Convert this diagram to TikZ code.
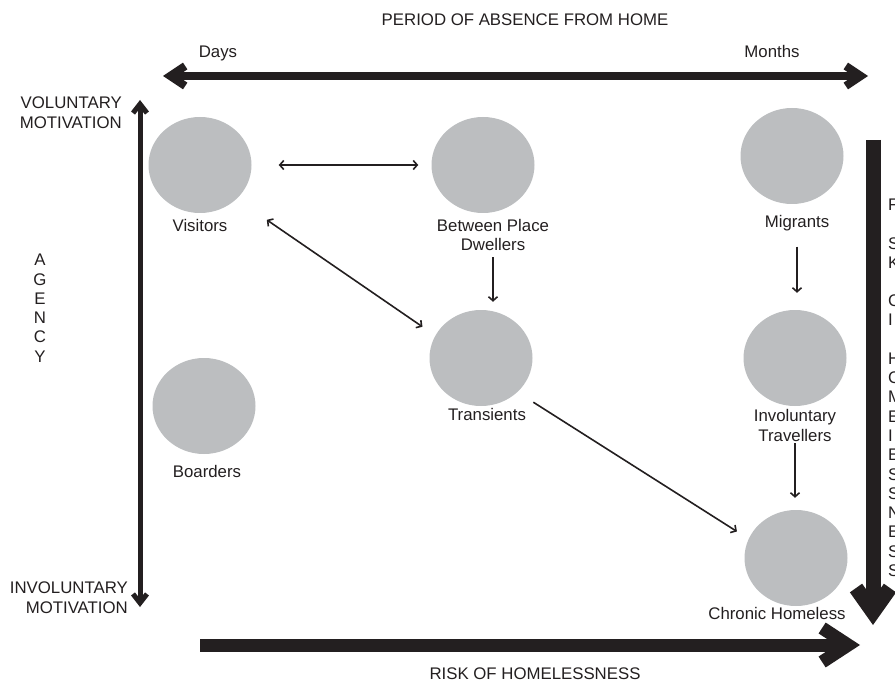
\documentclass[tikz,border=0pt]{standalone}
\usepackage{fontspec}
\setmainfont{Liberation Sans}
\usetikzlibrary{arrows.meta}
\usetikzlibrary{shapes.geometric}
\definecolor{ink}{HTML}{231F20}
\definecolor{blob}{HTML}{BCBEC0}
\tikzset{>=latex}
\tikzset{
    place/.style={ellipse, fill=blob, minimum width=103pt, minimum height=96pt, inner sep=0pt},
    tag/.style={anchor=base, align=center, inner sep=0pt, text=ink},
    twoway/.style={{Straight Barb[length=4pt, width=9pt]}-{Straight Barb[length=4pt, width=9pt]}, line width=1.6pt, ink},
    oneway/.style={-{Straight Barb[length=4pt, width=9pt]}, line width=1.6pt, ink}
}

\begin{document}
\begin{tikzpicture}[x=1pt, y=-1pt, font=\fontsize{16.8}{19.3}\selectfont]
    \useasboundingbox (0,0) rectangle (895,682);
    % axes
    \coordinate (daysend) at (163,76);
    \coordinate (monthsend) at (868,76);
    \coordinate (volend) at (140,100);
    \coordinate (involend) at (140,607);
    \coordinate (riskstart) at (200,645);
    \coordinate (riskend) at (860,645);
    \coordinate (sidestart) at (873,140);
    \coordinate (sideend) at (873,625);
    \draw[ink, line width=8pt, {Straight Barb[length=15pt, width=20pt]}-{Straight Barb[length=15pt, width=20pt]}] (daysend) -- (monthsend);
    \draw[ink, line width=5pt, {Straight Barb[length=9pt, width=14pt]}-{Straight Barb[length=9pt, width=14pt]}] (volend) -- (involend);
    \draw[ink, line width=13pt, -{Straight Barb[length=26pt, width=34pt]}] (riskstart) -- (riskend);
    \draw[ink, line width=15pt, -{Straight Barb[length=24pt, width=34pt]}] (sidestart) -- (sideend);
    \node[tag] (period) at (525,26) {PERIOD OF ABSENCE FROM HOME};
    \node[tag] (days) at (218,58) {Days};
    \node[tag] (months) at (772,58) {Months};
    \node[tag] (risk) at (535,679) {RISK OF HOMELESSNESS};
    \node[tag, anchor=north east, align=right] (vol) at (122,97) {VOLUNTARY\\MOTIVATION};
    \node[tag, anchor=north east, align=right] (invol) at (128,582) {INVOLUNTARY\\MOTIVATION};
    \node[tag, anchor=north] (agency) at (40,254) {A\\G\\E\\N\\C\\Y};
    \node[tag, anchor=north west, align=left] (side) at (888,199) {F\\[19pt]S\\K\\[19pt]C\\I\\[19pt]H\\C\\M\\E\\I\\E\\S\\S\\N\\E\\S\\S};
    % groups
    \node[place] (vis) at (200,165) {};
    \node[place] (bpd) at (483,165) {};
    \node[place] (trn) at (481,358) {};
    \node[place] (brd) at (204,406) {};
    \node[place] (mig) at (792,156) {};
    \node[place] (inv) at (795,358) {};
    \node[place] (chr) at (796,558) {};
    \node[tag] (vislbl) at (200,232) {Visitors};
    \node[tag] (bpdlbl) at (493,251) {Between Place\\Dwellers};
    \node[tag] (trnlbl) at (487,420) {Transients};
    \node[tag] (brdlbl) at (207,477) {Boarders};
    \node[tag] (miglbl) at (797,228) {Migrants};
    \node[tag] (invlbl) at (795,441) {Involuntary\\Travellers};
    \node[tag] (chrlbl) at (777,619) {Chronic Homeless};
    % moves
    \draw[twoway, shorten <=27pt, shorten >=13pt] (vis.east) -- (vis.east -| bpd.west);
    \draw[twoway, shorten <=81pt, shorten >=71pt] ([yshift=-9pt]vis.center) -- ([yshift=-9pt]trn.center);
    \draw[oneway, shorten <=6pt, shorten >=8pt] (bpdlbl.south) -- (bpdlbl.south |- trn.north);
    \draw[oneway, shorten <=15pt, shorten >=17pt] (miglbl.south) -- (miglbl.south |- inv.north);
    \draw[oneway, shorten <=2pt, shorten >=12pt] (invlbl.south) -- (invlbl.south |- chr.north);
    \draw[oneway, shorten <=62pt, shorten >=70pt] ([yshift=-11pt]trn.center) -- ([yshift=-11pt]chr.center);
\end{tikzpicture}
\end{document}
